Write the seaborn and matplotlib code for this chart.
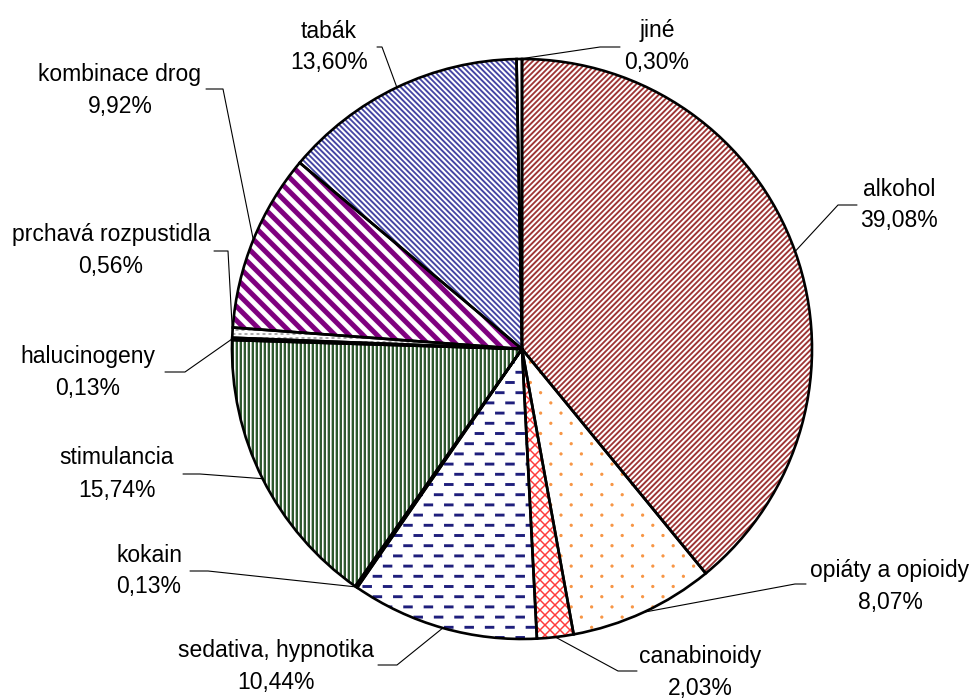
import numpy as np
import matplotlib
matplotlib.use("Agg")
import matplotlib.pyplot as plt
import seaborn as sns

# data
labels = ["alkohol", "opiáty a opioidy", "canabinoidy", "sedativa, hypnotika", "kokain",
          "stimulancia", "halucinogeny", "prchavá rozpustidla", "kombinace drog", "tabák", "jiné"]
shares = [39.08, 8.07, 2.03, 10.44, 0.13, 15.74, 0.13, 0.56, 9.92, 13.60, 0.30]

# layout in pixels (image 977x700): label block centre, leader elbow, leader end
label_pos = [(899, 205), (890, 586), (700, 672), (276, 666), (149, 571), (117, 474),
             (88, 372), (111, 251), (120, 90), (329, 47), (657, 47)]
elbows = [(838, 205), (795, 584), (618, 671), (397, 665), (208, 571), (200, 474),
          (185, 372), (228, 251), (223, 89), (382, 47), (600, 47)]
ends = [(857, 205), (806, 584), (637, 671), (378, 665), (190, 571), (183, 474),
        (165, 372), (214, 251), (206, 89), (377, 47), (620, 47)]

W, H = 977, 700
CX, CY, R = 522, 349, 290


def px(x, y):
    return (x - CX) / R, (CY - y) / R


sns.set_theme(style="white")
plt.rcParams["font.family"] = ["Liberation Sans", "DejaVu Sans"]

# --- vzorky vyplni (textury) ---
yy, xx = np.mgrid[0:H, 0:W].astype(float) + 0.5
S2 = np.sqrt(2)


def diag(p, hw, sign):
    u = (xx + sign * yy) / S2
    pp = p / S2
    d = np.abs(((u + pp / 2) % pp) - pp / 2)
    return np.clip(hw + 0.5 - d, 0, 1)


def stagger(row, per):
    r = np.floor(yy / row)
    xl = (xx + (r % 2) * per / 2) % per
    yl = yy % row
    return xl - per / 2, yl - row / 2


def dashes(row, per, length, thick):
    dx, dy = stagger(row, per)
    return np.clip(thick / 2 + 0.5 - np.abs(dy), 0, 1) * np.clip(length / 2 + 0.5 - np.abs(dx), 0, 1)


def dots(row, per, rad):
    dx, dy = stagger(row, per)
    return np.clip(rad + 0.5 - np.hypot(dx, dy), 0, 1)


def paint(layers):
    img = np.ones((H, W, 3))
    for alpha, col in layers:
        c = np.array(matplotlib.colors.to_rgb(col))
        img = img * (1 - alpha[..., None]) + c * alpha[..., None]
    return img


def vstripes():
    k = np.floor(xx) % 4
    img = np.ones((H, W, 3))
    img[k < 2] = matplotlib.colors.to_rgb("#2d582d")
    img[k == 3] = matplotlib.colors.to_rgb("#b4c0b4")
    return img


textures = {
    "alkohol": lambda: paint([(diag(5.5, 0.95, 1), "#9e3636")]),
    "opiáty a opioidy": lambda: paint([(dots(10.2, 20.4, 1.6), "#f79646")]),
    "canabinoidy": lambda: paint([(np.maximum(diag(10, 0.75, 1), diag(10, 0.75, -1)), "#ff3b3b")]),
    "sedativa, hypnotika": lambda: paint([(dashes(10.2, 20.4, 9.5, 2.9), "#1e1e7c")]),
    "kokain": lambda: paint([]),
    "stimulancia": vstripes,
    "halucinogeny": lambda: paint([(dashes(4, 6, 3, 1.2), "#777777")]),
    "prchavá rozpustidla": lambda: paint([(dashes(4, 6, 3, 1.2), "#777777")]),
    "kombinace drog": lambda: paint([(diag(14, 2.5, -1), "#7f007f")]),
    "tabák": lambda: paint([(diag(5.5, 0.95, -1), "#4646a4")]),
    "jiné": lambda: paint([]),
}

fig = plt.figure(figsize=(W / 100, H / 100), dpi=100)
fig.patch.set_facecolor("white")
ax = fig.add_axes([0, 0, 1, 1])

wedges, _ = ax.pie(shares, startangle=90, counterclock=False, colors=["white"] * len(shares),
                   wedgeprops=dict(edgecolor="black", linewidth=1.9))

xlim = (-CX / R, (W - CX) / R)
ylim = (-(H - CY) / R, CY / R)
ax.set_xlim(*xlim)
ax.set_ylim(*ylim)
ax.set_aspect("auto")
ax.axis("off")

# textura oriznuta tvarem vysece
for w, lab in zip(wedges, labels):
    im = ax.imshow(textures[lab](), extent=(xlim[0], xlim[1], ylim[0], ylim[1]),
                   origin="upper", interpolation="nearest", zorder=1)
    im.set_clip_path(w)
    w.set_facecolor("none")
    w.set_zorder(2)

ax.set_xlim(*xlim)
ax.set_ylim(*ylim)

# popisky s odkazovymi carami
for w, lab, val, tp, el, en in zip(wedges, labels, shares, label_pos, elbows, ends):
    mid = np.deg2rad((w.theta1 + w.theta2) / 2)
    sx, sy = np.cos(mid), np.sin(mid)
    ex, ey = px(*el)
    nx, ny = px(*en)
    ax.plot([sx, ex, nx], [sy, ey, ny], color="black", lw=0.8, zorder=3)
    txt = f"{lab}\n{val:.2f}".replace(".", ",") + "%"
    tx, ty = px(*tp)
    ax.text(tx, ty, txt, ha="center", va="center", fontsize=16.5, color="black",
            linespacing=1.5, zorder=4)

fig.savefig("out.png", dpi=100, facecolor="white")
